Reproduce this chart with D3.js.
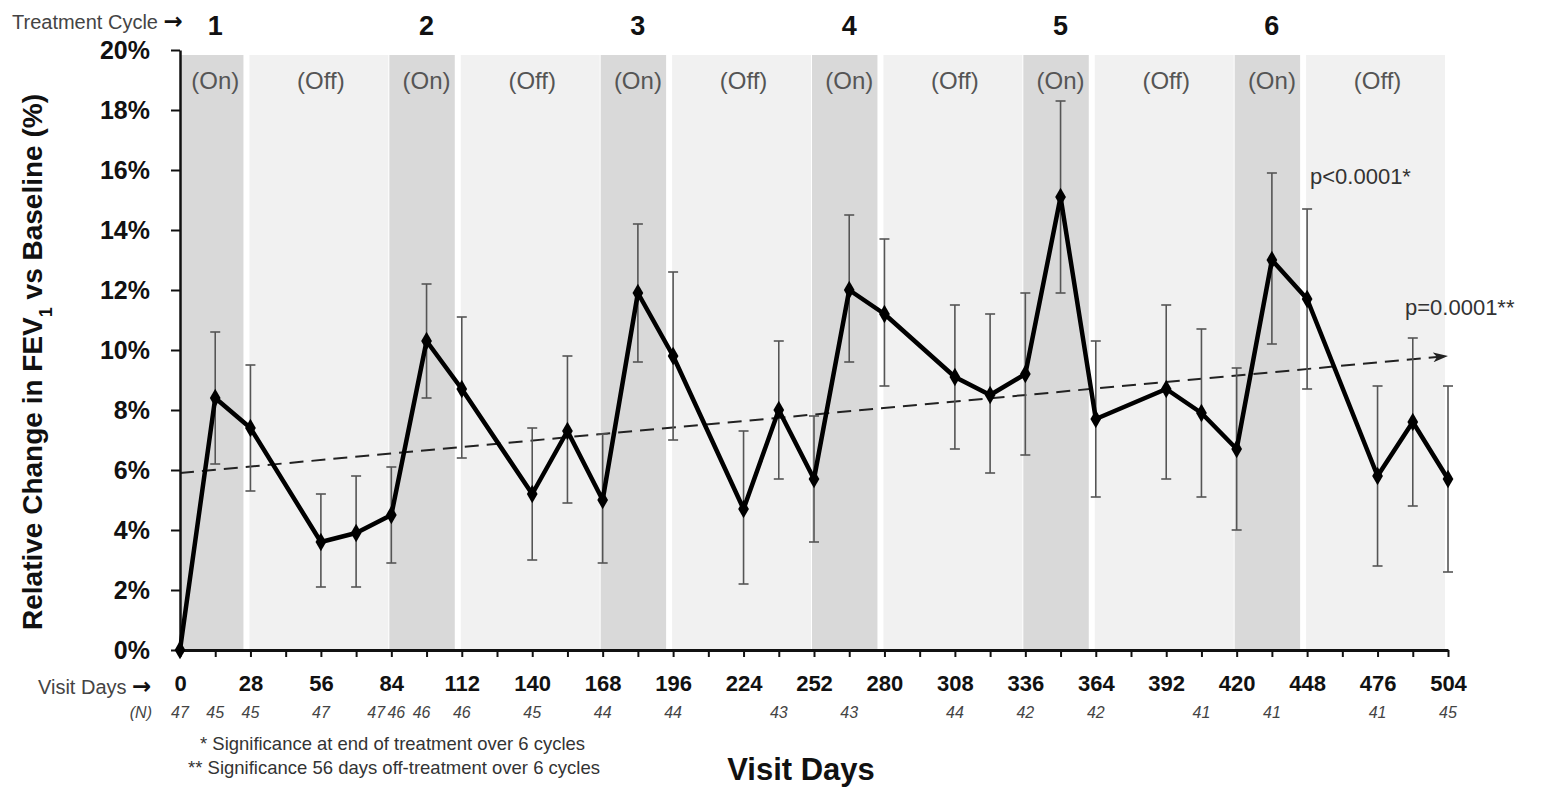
<!DOCTYPE html>
<html>
<head>
<meta charset="utf-8">
<script src="https://cdn.jsdelivr.net/npm/d3@7"></script>
<style>
body { margin: 0; background: #fff; }
text { font-family: "Liberation Sans", Arial, sans-serif; }
</style>
</head>
<body>
<svg id="chart" width="1550" height="790"></svg>
<script>
// Visit days and mean relative change in FEV1 (%) with error bar limits
var visitDays = [0, 14, 28, 56, 70, 84, 98, 112, 140, 154, 168, 182, 196, 224, 238, 252, 266, 280, 308, 322, 336, 350, 364, 392, 406, 420, 434, 448, 476, 490, 504];
var meanChange = [0, 8.4, 7.4, 3.6, 3.9, 4.5, 10.3, 8.7, 5.2, 7.3, 5.0, 11.9, 9.8, 4.7, 8.0, 5.7, 12.0, 11.2, 9.1, 8.5, 9.2, 15.1, 7.7, 8.7, 7.9, 6.7, 13.0, 11.7, 5.8, 7.6, 5.7];
var lowerErr = [0, 6.2, 5.3, 2.1, 2.1, 2.9, 8.4, 6.4, 3.0, 4.9, 2.9, 9.6, 7.0, 2.2, 5.7, 3.6, 9.6, 8.8, 6.7, 5.9, 6.5, 11.9, 5.1, 5.7, 5.1, 4.0, 10.2, 8.7, 2.8, 4.8, 2.6];
var upperErr = [0, 10.6, 9.5, 5.2, 5.8, 6.1, 12.2, 11.1, 7.4, 9.8, 7.2, 14.2, 12.6, 7.3, 10.3, 7.8, 14.5, 13.7, 11.5, 11.2, 11.9, 18.3, 10.3, 11.5, 10.7, 9.4, 15.9, 14.7, 8.8, 10.4, 8.8];

// patients (N) under the axis, placed at the day where the label sits
var nDays = [0, 14, 28, 56, 78, 86, 96, 112, 140, 168, 196, 238, 266, 308, 336, 364, 406, 434, 476, 504];
var nValues = [47, 45, 45, 47, 47, 46, 46, 46, 45, 44, 44, 43, 43, 44, 42, 42, 41, 41, 41, 45];

// treatment cycles: 28 days on, 56 days off
var cycleStarts = [0, 84, 168, 252, 336, 420];
var cycleLabels = ["1", "2", "3", "4", "5", "6"];
var onDays = 28;
var cycleDays = 84;

// linear trend (start / end)
var trendDays = [0, 504];
var trendValues = [5.9, 9.8];

var yTicks = [0, 2, 4, 6, 8, 10, 12, 14, 16, 18, 20];
var xTicks = d3.range(0, 505, 14);

var svg = d3.select("#chart");

var x = d3.scaleLinear().domain([0, 504]).range([180, 1448]);
var y = d3.scaleLinear().domain([0, 20]).range([650, 50]);

var defs = svg.append("defs");
defs.append("marker")
    .attr("id", "arrow")
    .attr("viewBox", "0 -6 16 12")
    .attr("refX", 15)
    .attr("refY", 0)
    .attr("markerUnits", "userSpaceOnUse")
    .attr("markerWidth", 16)
    .attr("markerHeight", 12)
    .attr("orient", "auto")
  .append("path")
    .attr("d", "M0,-5 L15,0 L0,5 L4,0 Z")
    .attr("fill", "#222");

// on / off bands
var bandTop = 55;
var bands = svg.append("g").attr("class", "bands");

bands.selectAll("rect.on")
    .data(cycleStarts)
  .enter().append("rect")
    .attr("class", "on")
    .attr("x", function(s) { return Math.max(x(0) + 1, x(s) - 2); })
    .attr("y", bandTop)
    .attr("width", function(s) { return x(s + onDays) - 7 - Math.max(x(0) + 1, x(s) - 2); })
    .attr("height", y(0) - bandTop)
    .attr("fill", "#d9d9d9");

bands.selectAll("rect.off")
    .data(cycleStarts)
  .enter().append("rect")
    .attr("class", "off")
    .attr("x", function(s) { return x(s + onDays) - 1; })
    .attr("y", bandTop)
    .attr("width", function(s) { return x(s + cycleDays) - 3 - x(s + onDays) + 1; })
    .attr("height", y(0) - bandTop)
    .attr("fill", "#f1f1f1");

bands.selectAll("text.onlab")
    .data(cycleStarts)
  .enter().append("text")
    .attr("x", function(s) { return x(s + onDays / 2); })
    .attr("y", 89)
    .attr("text-anchor", "middle")
    .attr("font-size", 24)
    .attr("fill", "#555")
    .text("(On)");

bands.selectAll("text.offlab")
    .data(cycleStarts)
  .enter().append("text")
    .attr("x", function(s) { return x(s + onDays + (cycleDays - onDays) / 2); })
    .attr("y", 89)
    .attr("text-anchor", "middle")
    .attr("font-size", 24)
    .attr("fill", "#555")
    .text("(Off)");

// cycle numbers
svg.selectAll("text.cycle")
    .data(cycleStarts)
  .enter().append("text")
    .attr("class", "cycle")
    .attr("x", function(s) { return x(s + onDays / 2); })
    .attr("y", 35)
    .attr("text-anchor", "middle")
    .attr("font-size", 27)
    .attr("font-weight", "bold")
    .attr("fill", "#111")
    .text(function(s, i) { return cycleLabels[i]; });

var tc = svg.append("text")
    .attr("x", 12)
    .attr("y", 29)
    .attr("font-size", 20)
    .attr("fill", "#444");
tc.append("tspan").text("Treatment Cycle ");
tc.append("tspan")
    .style("font-family", "'DejaVu Sans', sans-serif")
    .attr("font-weight", "bold")
    .attr("font-size", 23)
    .attr("fill", "#111")
    .text("\u2192");

// trend line
svg.append("line")
    .attr("x1", x(trendDays[0]))
    .attr("y1", y(trendValues[0]))
    .attr("x2", x(trendDays[1]))
    .attr("y2", y(trendValues[1]))
    .attr("stroke", "#222")
    .attr("stroke-width", 2)
    .attr("stroke-dasharray", "14,8")
    .attr("marker-end", "url(#arrow)");

// error bars
var pts = visitDays.map(function(d, i) {
    return {day: d, v: meanChange[i], lo: lowerErr[i], hi: upperErr[i]};
});

var err = svg.append("g").attr("class", "errors")
    .attr("stroke", "#555")
    .attr("stroke-width", 1.6);

var eb = err.selectAll("g")
    .data(pts.filter(function(p) { return p.hi > p.lo; }))
  .enter().append("g");

eb.append("line")
    .attr("x1", function(p) { return x(p.day); })
    .attr("x2", function(p) { return x(p.day); })
    .attr("y1", function(p) { return y(p.lo); })
    .attr("y2", function(p) { return y(p.hi); });
eb.append("line")
    .attr("x1", function(p) { return x(p.day) - 5; })
    .attr("x2", function(p) { return x(p.day) + 5; })
    .attr("y1", function(p) { return y(p.hi); })
    .attr("y2", function(p) { return y(p.hi); });
eb.append("line")
    .attr("x1", function(p) { return x(p.day) - 5; })
    .attr("x2", function(p) { return x(p.day) + 5; })
    .attr("y1", function(p) { return y(p.lo); })
    .attr("y2", function(p) { return y(p.lo); });

// axes
var yAxis = d3.axisLeft(y)
    .tickValues(yTicks)
    .tickSize(9)
    .tickSizeOuter(0)
    .tickPadding(21)
    .tickFormat(function(d) { return d + "%"; });

var gy = svg.append("g")
    .attr("transform", "translate(" + x(0) + ",0)")
    .call(yAxis);
gy.select(".domain").attr("stroke", "#111").attr("stroke-width", 2.5);
gy.selectAll(".tick line").attr("stroke", "#111").attr("stroke-width", 2);
gy.selectAll(".tick text")
    .attr("font-size", 25)
    .attr("font-weight", "bold")
    .attr("fill", "#111")
    .style("font-family", "'Liberation Sans', Arial, sans-serif");

var xAxis = d3.axisBottom(x)
    .tickValues(xTicks)
    .tickSize(7)
    .tickSizeOuter(0)
    .tickPadding(18)
    .tickFormat(function(d) { return d % 28 === 0 ? d : ""; });

var gx = svg.append("g")
    .attr("transform", "translate(0," + y(0) + ")")
    .call(xAxis);
gx.select(".domain").attr("stroke", "#111").attr("stroke-width", 3);
gx.selectAll(".tick line").attr("stroke", "#111").attr("stroke-width", 2);
gx.selectAll(".tick text")
    .attr("font-size", 22)
    .attr("font-weight", "bold")
    .attr("fill", "#111")
    .style("font-family", "'Liberation Sans', Arial, sans-serif");

// mean line and diamonds
var line = d3.line()
    .x(function(p) { return x(p.day); })
    .y(function(p) { return y(p.v); });

svg.append("path")
    .datum(pts)
    .attr("d", line)
    .attr("fill", "none")
    .attr("stroke", "#000")
    .attr("stroke-width", 4.5)
    .attr("stroke-linejoin", "round");

svg.selectAll("path.pt")
    .data(pts)
  .enter().append("path")
    .attr("class", "pt")
    .attr("transform", function(p) { return "translate(" + x(p.day) + "," + y(p.v) + ")"; })
    .attr("d", d3.symbol().type(d3.symbolDiamond).size(100))
    .attr("fill", "#000");

// labels under axis
var vd = svg.append("text")
    .attr("x", 38)
    .attr("y", 694)
    .attr("font-size", 20)
    .attr("fill", "#444");
vd.append("tspan").text("Visit Days ");
vd.append("tspan")
    .style("font-family", "'DejaVu Sans', sans-serif")
    .attr("font-weight", "bold")
    .attr("font-size", 23)
    .attr("fill", "#111")
    .text("\u2192");

svg.append("text")
    .attr("x", 152)
    .attr("y", 718)
    .attr("text-anchor", "end")
    .attr("font-size", 16)
    .attr("font-style", "italic")
    .attr("fill", "#444")
    .text("(N)");

svg.selectAll("text.n")
    .data(nDays)
  .enter().append("text")
    .attr("class", "n")
    .attr("x", function(d) { return x(d); })
    .attr("y", 718)
    .attr("text-anchor", "middle")
    .attr("font-size", 16)
    .attr("font-style", "italic")
    .attr("fill", "#444")
    .text(function(d, i) { return nValues[i]; });

// p values
svg.append("text")
    .attr("x", 1310)
    .attr("y", 184)
    .attr("font-size", 22)
    .attr("fill", "#333")
    .text("p<0.0001*");

svg.append("text")
    .attr("x", 1405)
    .attr("y", 315)
    .attr("font-size", 22)
    .attr("fill", "#333")
    .text("p=0.0001**");

// footnotes
svg.append("text")
    .attr("x", 200)
    .attr("y", 750)
    .attr("font-size", 19)
    .attr("fill", "#333")
    .attr("textLength", 385)
    .attr("lengthAdjust", "spacingAndGlyphs")
    .text("* Significance at end of treatment over 6 cycles");

svg.append("text")
    .attr("x", 188)
    .attr("y", 774)
    .attr("font-size", 19)
    .attr("fill", "#333")
    .attr("textLength", 412)
    .attr("lengthAdjust", "spacingAndGlyphs")
    .text("** Significance 56 days off-treatment over 6 cycles");

// axis titles
svg.append("text")
    .attr("x", 801)
    .attr("y", 780)
    .attr("text-anchor", "middle")
    .attr("font-size", 31)
    .attr("font-weight", "bold")
    .attr("fill", "#111")
    .text("Visit Days");

var yt = svg.append("text")
    .attr("transform", "translate(42,362) rotate(-90)")
    .attr("text-anchor", "middle")
    .attr("font-size", 28)
    .attr("font-weight", "bold")
    .attr("fill", "#111");
yt.append("tspan").text("Relative Change in FEV");
yt.append("tspan").attr("font-size", 18).attr("baseline-shift", "sub").text("1");
yt.append("tspan").text(" vs Baseline (%)");
</script>
</body>
</html>
